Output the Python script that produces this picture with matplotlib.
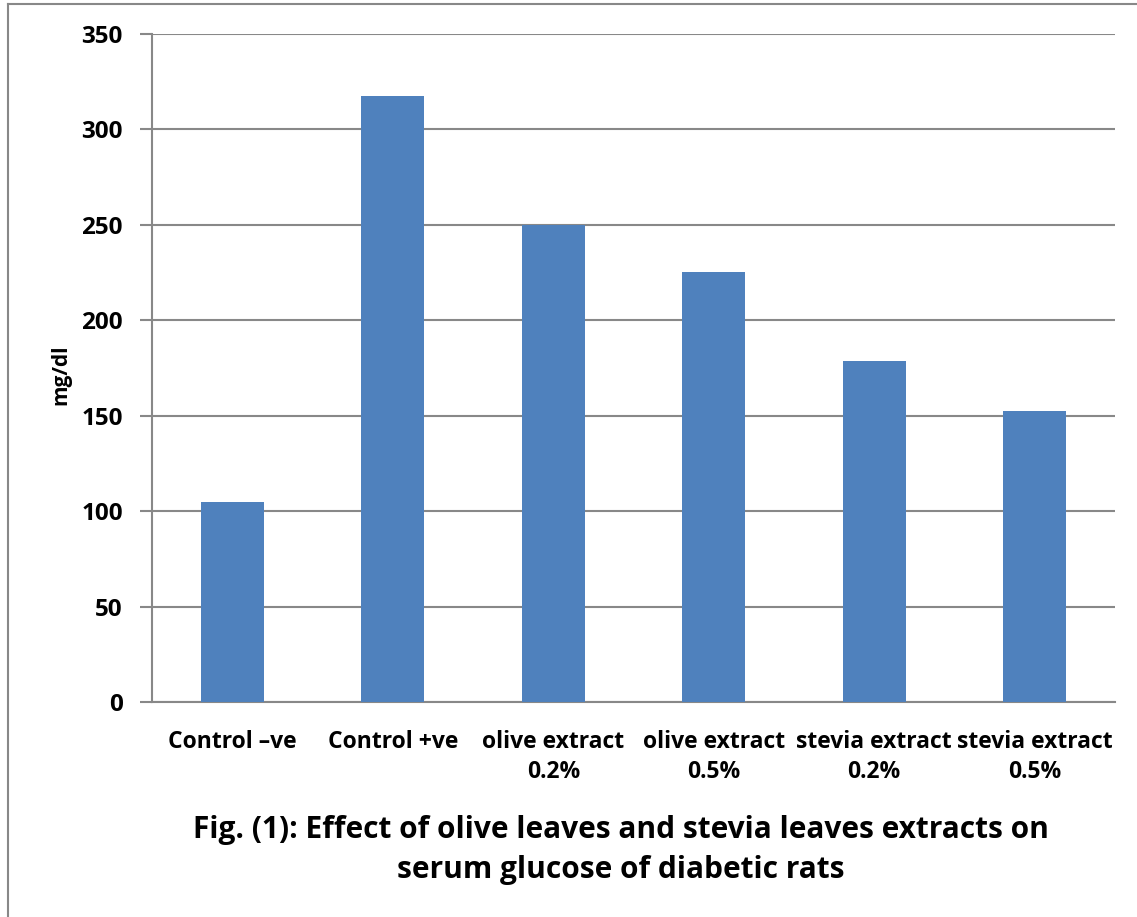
import matplotlib.pyplot as plt
from matplotlib.lines import Line2D

# data
categories = ["Control \u2013ve", "Control +ve", "olive extract\n0.2%", "olive extract\n0.5%",
              "stevia extract\n0.2%", "stevia extract\n0.5%"]
glucose = [105, 317.5, 250, 225.5, 178.5, 152.5]
yticks = [0, 50, 100, 150, 200, 250, 300, 350]

plt.rcParams['font.family'] = ['Open Sans', 'DejaVu Sans']
plt.rcParams['font.weight'] = 'bold'

fig = plt.figure(figsize=(11.37, 9.17), dpi=100)
ax = fig.add_axes([152/1137, 1-702/917, (1115-152)/1137, (702-34)/917])

x = range(len(categories))
ax.bar(x, glucose, width=0.39, color='#4F81BD', zorder=3)

ax.set_xlim(-0.5, len(categories) - 0.5)
ax.set_ylim(0, 350)
ax.set_yticks(yticks)
ax.set_yticklabels([str(v) for v in yticks], fontsize=17.5, fontweight='bold')
ax.set_xticks(list(x))
ax.set_xticklabels(categories, fontsize=16.5, fontweight='bold', linespacing=1.35)
ax.tick_params(axis='x', length=0, pad=20)
ax.tick_params(axis='y', length=9, color='#888888', width=1.5, pad=12)

ax.grid(axis='y', color='#888888', linewidth=1.5, zorder=0)
for s in ['top', 'right']:
    ax.spines[s].set_visible(False)
for s in ['left', 'bottom']:
    ax.spines[s].set_color('#888888')
    ax.spines[s].set_linewidth(1.5)

ax.set_ylabel("mg/dl", fontsize=15, fontweight='bold')
ax.yaxis.set_label_coords(-0.084, 0.49)

fig.text(621/1137, 1-850/917,
         "Fig. (1): Effect of olive leaves and stevia leaves extracts on\nserum glucose of diabetic rats",
         ha='center', va='center', fontsize=21.5, fontweight='bold', linespacing=1.42)

# outer frame of the chart (only top and left visible)
fig.add_artist(Line2D([8/1137, 8/1137], [0, 1-4/917], color='#888888', linewidth=1.5))
fig.add_artist(Line2D([8/1137, 1], [1-4/917, 1-4/917], color='#888888', linewidth=1.5))

fig.savefig("out.png", dpi=100)
